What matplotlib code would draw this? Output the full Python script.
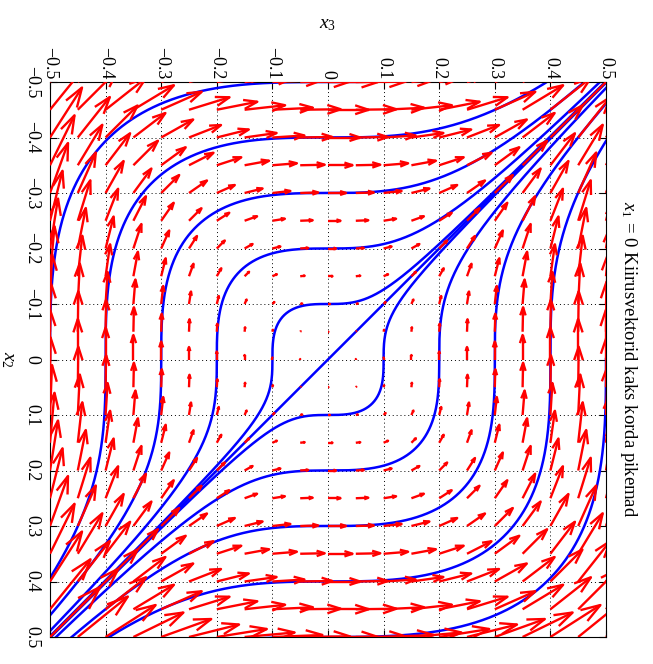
import numpy as np
import matplotlib.pyplot as plt
from matplotlib.collections import LineCollection

plt.rcParams['font.family'] = ['Liberation Serif', 'DejaVu Serif']
plt.rcParams['mathtext.fontset'] = 'custom'
plt.rcParams['mathtext.rm'] = 'Liberation Serif'
plt.rcParams['mathtext.it'] = 'Liberation Serif:italic'
plt.rcParams['axes.unicode_minus'] = True

# quiver grid, x2 (vertical, downwards) and x3 (horizontal)
grid_x2 = [-0.5, -0.45, -0.4, -0.35, -0.3, -0.25, -0.2, -0.15, -0.1, -0.05, 0.0,
           0.05, 0.1, 0.15, 0.2, 0.25, 0.3, 0.35, 0.4, 0.45, 0.5]
grid_x3 = [-0.5, -0.45, -0.4, -0.35, -0.3, -0.25, -0.2, -0.15, -0.1, -0.05, 0.0,
           0.05, 0.1, 0.15, 0.2, 0.25, 0.3, 0.35, 0.4, 0.45, 0.5]

# trajectories: x2^3 + x3^3 = c
levels = [-0.125, -0.064, -0.027, -0.008, -0.001, 0.0,
          0.001, 0.008, 0.027, 0.064, 0.125]

tick_vals = [-0.5, -0.4, -0.3, -0.2, -0.1, 0.0, 0.1, 0.2, 0.3, 0.4, 0.5]
tick_labels = ['\u22120.5', '\u22120.4', '\u22120.3', '\u22120.2', '\u22120.1', '0',
               '0.1', '0.2', '0.3', '0.4', '0.5']

arrow_scale = 2  # kaks korda pikemad
title = '$x_1$ = 0 Kiirusvektorid kaks korda pikemad'


def field(x2, x3):
    return -x3 ** 2, x2 ** 2


fig = plt.figure(figsize=(6.53, 6.64), dpi=100)
ax = fig.add_axes([50 / 653, 1 - 637 / 664, 556 / 653, 555 / 664])
ax.set_xlim(-0.5, 0.5)
ax.set_ylim(0.5, -0.5)

# blue trajectories
s = np.linspace(-0.5, 0.5, 1201)
for c in levels:
    x3a = np.cbrt(c - s ** 3)
    x2b = np.cbrt(c - s ** 3)
    x2 = np.concatenate([s, x2b])
    x3 = np.concatenate([x3a, s])
    order = np.argsort(x3 - x2)
    ax.plot(x3[order], x2[order], color='b', lw=1.8, zorder=2)

# red arrows, matlab style quiver autoscale
X2, X3 = np.meshgrid(grid_x2, grid_x3)
d2, d3 = field(X2, X3)
n = len(grid_x2) - 1
delx = (max(grid_x2) - min(grid_x2)) / n
dely = (max(grid_x3) - min(grid_x3)) / n
maxlen = np.sqrt((d2 ** 2 + d3 ** 2) / (delx ** 2 + dely ** 2)).max()
k = arrow_scale * 0.9 / maxlen
U = (d3 * k).ravel()
V = (d2 * k).ravel()
X = X3.ravel()
Y = X2.ravel()
alpha, beta = 0.33, 0.33
th, tv = X + U, Y + V
h1 = th - alpha * (U + beta * V)
v1 = tv - alpha * (V - beta * U)
h2 = th - alpha * (U - beta * V)
v2 = tv - alpha * (V + beta * U)
segs = []
for i in range(len(X)):
    segs.append([(X[i], Y[i]), (th[i], tv[i])])
    segs.append([(h1[i], v1[i]), (th[i], tv[i]), (h2[i], v2[i])])
ax.add_collection(LineCollection(segs, colors='r', linewidths=1.7, zorder=3))

ax.set_xticks(tick_vals, tick_labels, rotation=-90, fontsize=13)
ax.set_yticks(tick_vals, tick_labels, rotation=-90, va='center', fontsize=13)
ax.tick_params(axis='both', direction='in', length=5, width=0.8,
               top=True, bottom=True, left=True, right=True,
               labeltop=True, labelbottom=False, labelleft=True, labelright=False)
ax.tick_params(axis='x', pad=2)
ax.tick_params(axis='y', pad=7)
ax.grid(True, color='k', linestyle=(0, (1, 3)), linewidth=0.7)
ax.set_axisbelow(True)
for sp in ax.spines.values():
    sp.set_linewidth(0.8)

ax.xaxis.set_label_position('top')
ax.set_xlabel('$x_3$', fontsize=14, labelpad=13)
ax.set_ylabel('$x_2$', fontsize=14, rotation=-90, labelpad=11, va='center')
ax.text(1.022, 0.5, title, transform=ax.transAxes, rotation=-90,
        ha='left', va='center', fontsize=13.5)

fig.savefig('out.png', dpi=100)
